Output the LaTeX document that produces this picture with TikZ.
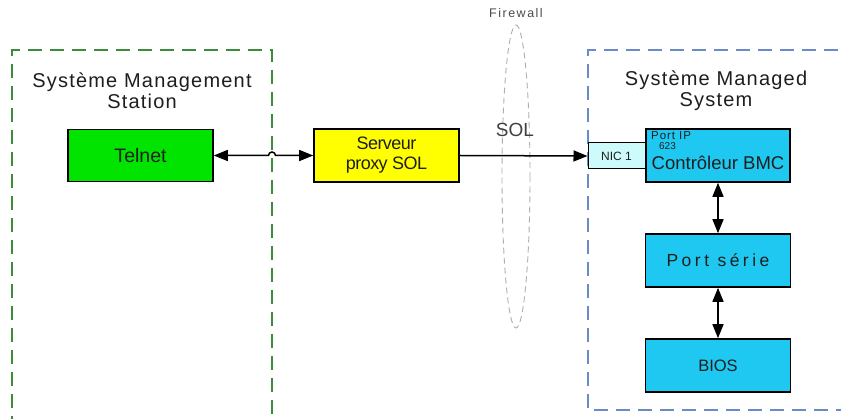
\documentclass[tikz,border=0pt]{standalone}
\usepackage{fontspec}
\setmainfont{Liberation Sans}
\usetikzlibrary{arrows.meta}
\definecolor{boxgreen}{RGB}{0,228,0}
\definecolor{boxyellow}{RGB}{255,255,0}
\definecolor{boxcyan}{RGB}{30,200,240}
\definecolor{niccyan}{RGB}{205,250,250}
\definecolor{dgreen}{RGB}{60,140,60}
\definecolor{dblue}{RGB}{105,140,200}
\definecolor{fwgray}{RGB}{175,175,175}
\definecolor{txt}{RGB}{30,30,30}
\tikzset{
  blk/.style={draw=black, line width=1.6pt, rectangle, inner sep=0pt, text=txt},
  zone/.style={line width=1.8pt, dash pattern=on 14pt off 8pt},
  tip/.style={-{Triangle[length=14pt,width=11pt]}},
  dtip/.style={{Triangle[length=14pt,width=11pt]}-{Triangle[length=14pt,width=11pt]}},
  ttl/.style={font=\fontsize{20}{21}\selectfont\addfontfeature{LetterSpace=6}, align=center, text=txt, inner sep=0pt}
}
\begin{document}
\begin{tikzpicture}[x=1pt,y=-1pt]
\clip (0,0) rectangle (841,419);
\fill[white] (0,0) rectangle (841,419);
% zones
\draw[zone, draw=dgreen] (12,430) -- (12,50) -- (272,50) -- (272,430);
\draw[zone, draw=dblue] (850,410) -- (588,410) -- (588,50) -- (850,50);
\node[ttl] (tl) at (142,90.5) {Système Management\\Station};
\node[ttl] (tr) at (716,90.5) {Système Managed\\System};
% firewall
\draw[fwgray, line width=0.9pt, dash pattern=on 6pt off 4pt] (516,176.5) ellipse [x radius=14, y radius=151.5];
\node[font=\fontsize{12.5}{12}\selectfont\addfontfeature{LetterSpace=12}, text=txt!80, inner sep=0pt] (fw) at (516,13) {Firewall};
% blocks
\node[blk, fill=boxgreen, minimum width=145pt, minimum height=52pt, font=\fontsize{19.5}{20}\selectfont] (telnet) at (140.5,155.5) {Telnet};
\node[blk, fill=boxyellow, minimum width=145pt, minimum height=53pt, align=center, font=\fontsize{18}{20}\selectfont\addfontfeature{LetterSpace=-3}] (proxy) at (386.5,155.5) {Serveur\\proxy SOL};
\node[blk, fill=niccyan, line width=1pt, minimum width=57pt, minimum height=26pt, font=\fontsize{12}{12}\selectfont] (nic) at (616.5,156) {NIC 1};
\node[blk, fill=boxcyan, minimum width=144pt, minimum height=53pt] (bmc) at (718,155.5) {};
\node[inner sep=0pt, anchor=west, text=txt, font=\fontsize{11.5}{11}\selectfont\addfontfeature{LetterSpace=8}] (portip) at (651,136) {Port IP};
\node[inner sep=0pt, text=txt, font=\fontsize{10}{10}\selectfont] (p623) at (667.5,146) {623};
\node[inner sep=0pt, text=txt, font=\fontsize{18.5}{19}\selectfont] (bmct) at (718,163) {Contrôleur BMC};
\node[blk, fill=boxcyan, minimum width=145pt, minimum height=53pt, font=\fontsize{17.5}{18}\selectfont\addfontfeature{LetterSpace=20}] (serie) at (718,260.5) {Port série};
\node[blk, fill=boxcyan, minimum width=145pt, minimum height=53pt, font=\fontsize{16.5}{17}\selectfont] (bios) at (718,365.5) {BIOS};
% connectors
\coordinate (hop) at (272,155.5);
\draw[dtip, line width=1.5pt] (telnet.east) -- ([xshift=-3.5pt]hop) arc[start angle=180, end angle=0, radius=3.5pt] -- (proxy.west);
\draw[tip, line width=1.5pt] (proxy.east) -- (nic.west);
\node[inner sep=0pt, text=txt!85, font=\fontsize{19}{19}\selectfont] (sol) at (515,130) {SOL};
\draw[dtip, line width=1.5pt] (bmc.south) -- (serie.north);
\draw[dtip, line width=1.5pt] (serie.south) -- (bios.north);
\end{tikzpicture}
\end{document}
